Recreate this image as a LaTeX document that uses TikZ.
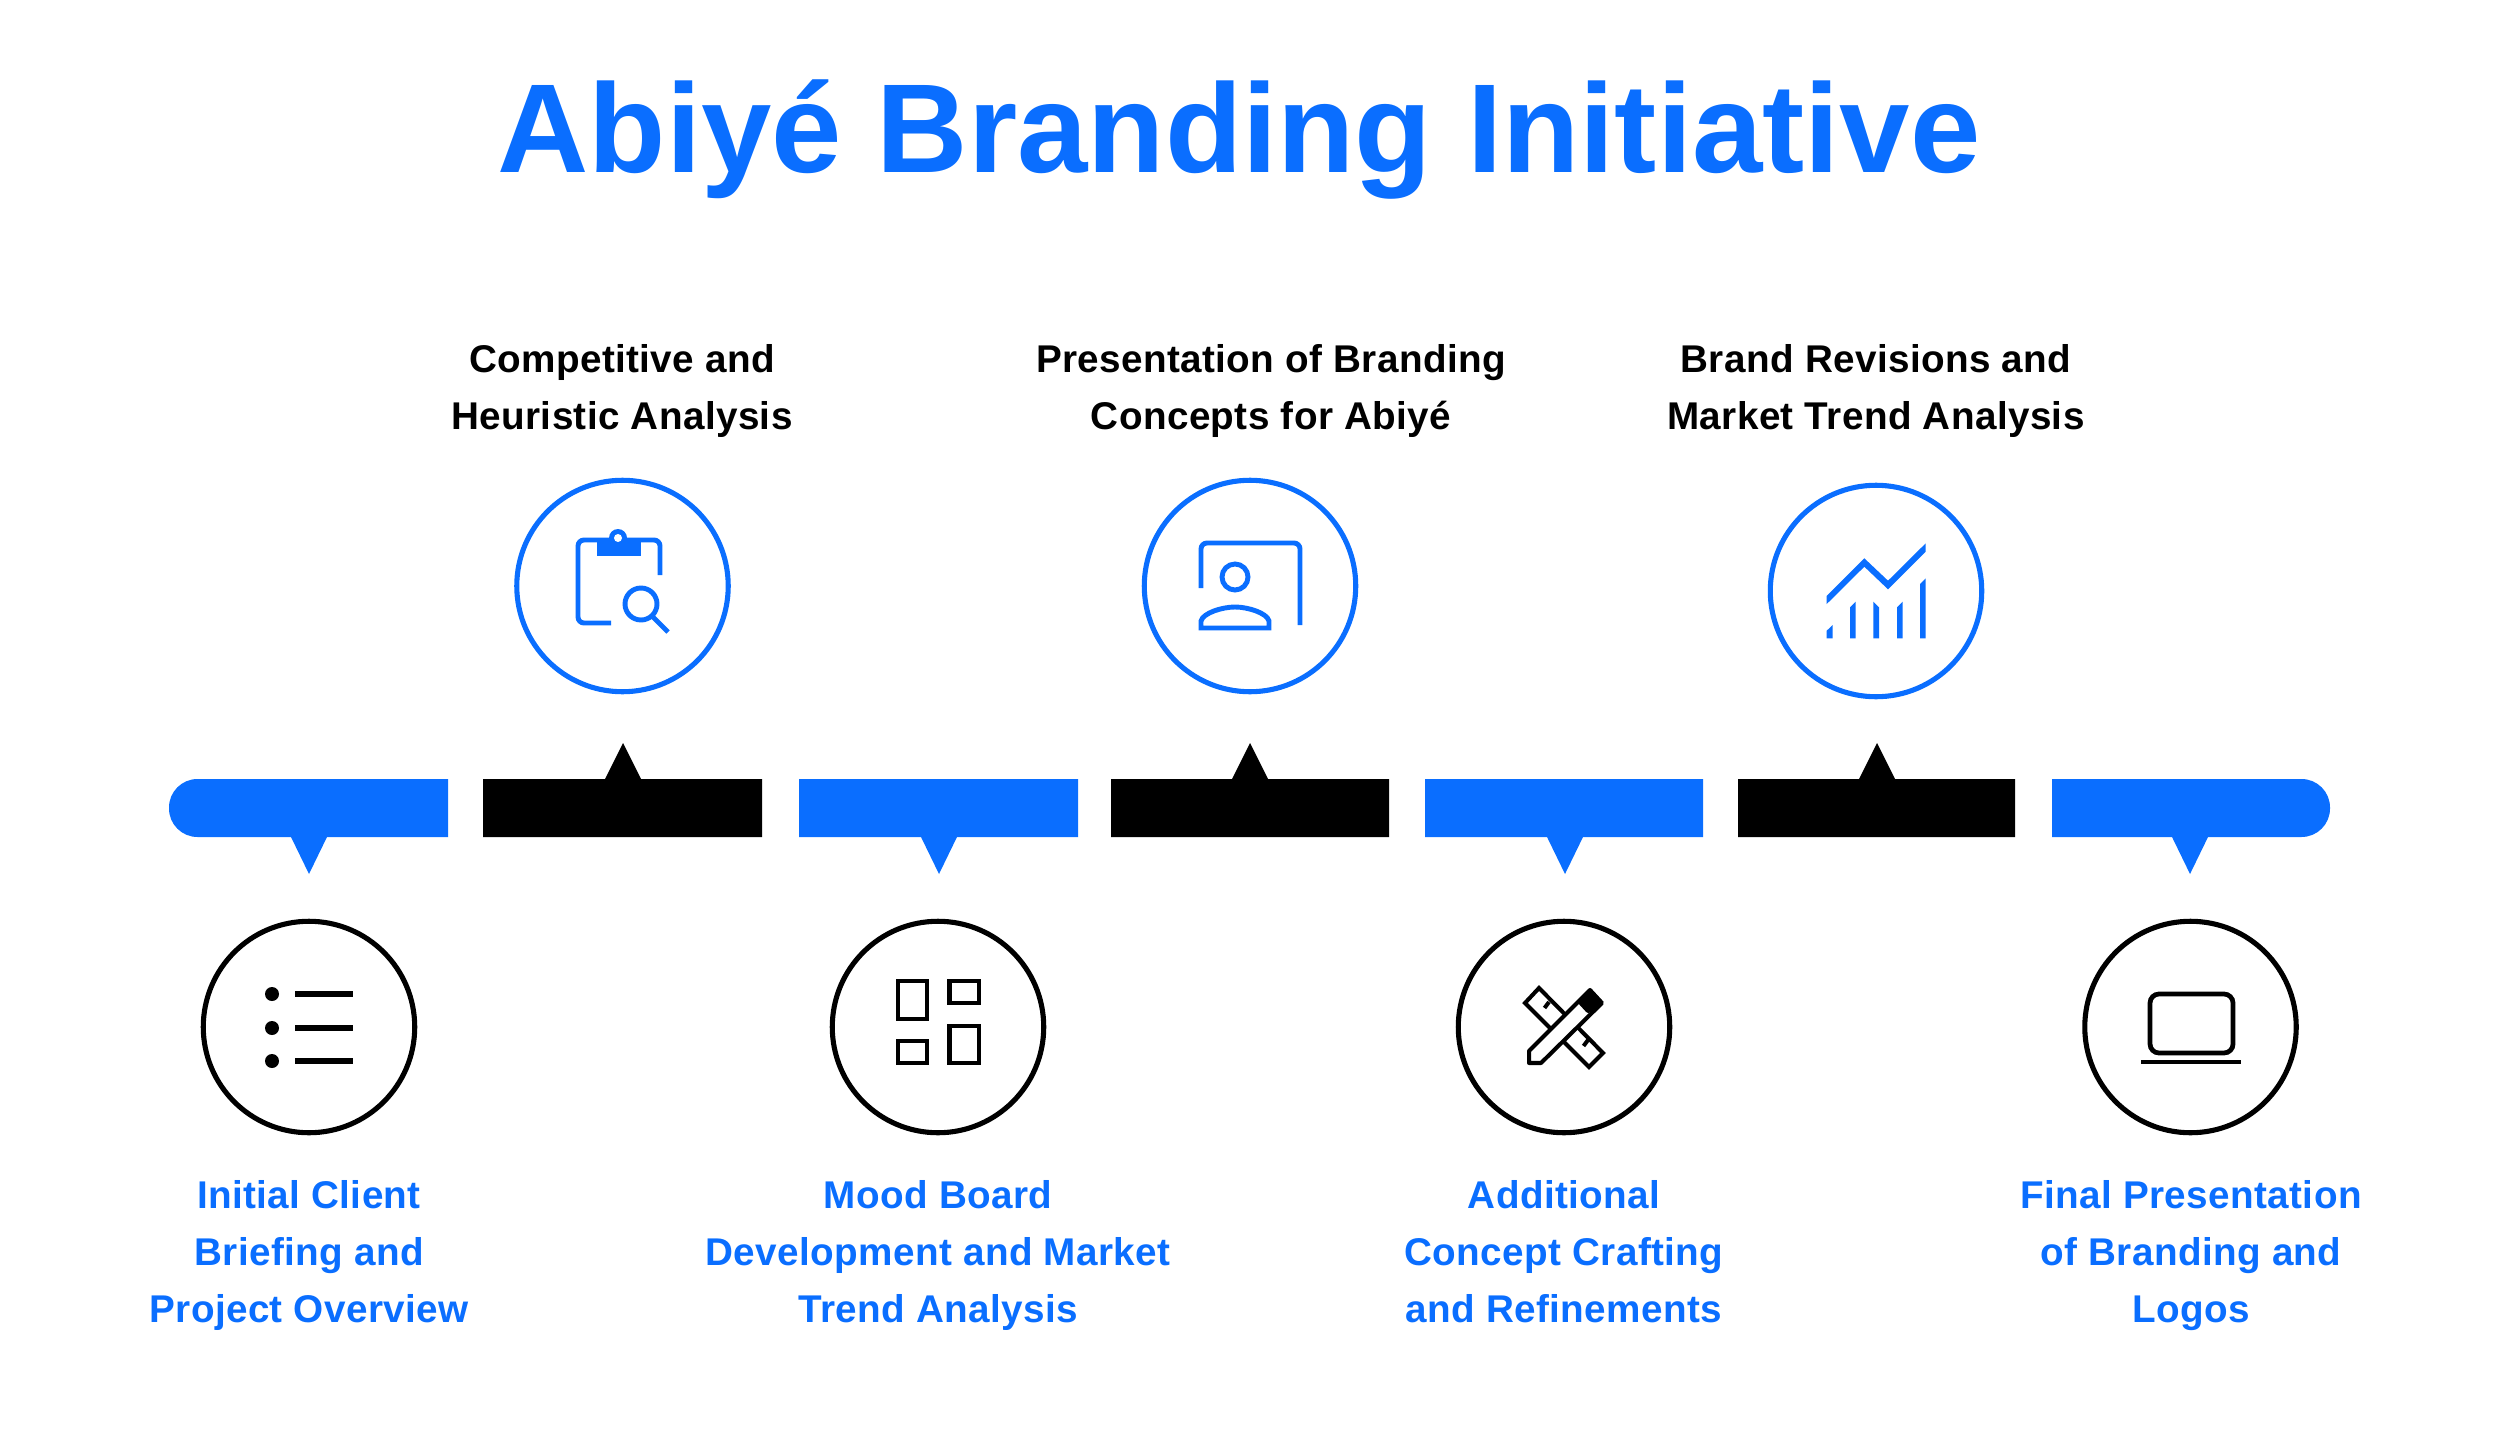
\documentclass[tikz,border=0pt]{standalone}
\usepackage{fontspec}
\usepackage{xcolor}
\setmainfont{Liberation Sans}
\usetikzlibrary{positioning}
\definecolor{abiblue}{HTML}{0A6EFF}
\tikzset{
    bluering/.style={circle, draw=abiblue, fill=white, line width=2.9pt, minimum size=4.23cm, inner sep=0pt},
    blackring/.style={circle, draw=black, fill=white, line width=2.9pt, minimum size=4.23cm, inner sep=0pt},
    bluetext/.style={text=abiblue, align=center, font=\fontsize{22}{32.3}\selectfont\bfseries\addfontfeature{LetterSpace=1.0}},
    blacktext/.style={text=black, align=center, font=\fontsize{22}{32.3}\selectfont\bfseries\addfontfeature{LetterSpace=1.0}},
    blueicon/.style={draw=abiblue, line width=2.8pt},
    blackicon/.style={draw=black, line width=2.3pt},
}
\begin{document}
\begin{tikzpicture}[x=0.02cm, y=-0.02cm]
    \useasboundingbox (0,0) rectangle (2500,1429);

    % title
    \node[text=abiblue, font=\fontsize{72}{80}\selectfont\bfseries, anchor=base] (title) at (1239,173) {Abiyé Branding Initiative};

    % timeline bar
    \fill[abiblue] (448,779) {[rounded corners=0.57cm] -- (169,779) -- (169,837)} -- (291,837) -- (309,874) -- (327,837) -- (448,837) -- cycle;
    \fill[black] (483,779) -- (605,779) -- (623,743) -- (641,779) -- (762,779) -- (762,837) -- (483,837) -- cycle;
    \fill[abiblue] (799,779) -- (1078,779) -- (1078,837) -- (957,837) -- (939,874) -- (921,837) -- (799,837) -- cycle;
    \fill[black] (1111,779) -- (1232,779) -- (1250,743) -- (1268,779) -- (1389,779) -- (1389,837) -- (1111,837) -- cycle;
    \fill[abiblue] (1425,779) -- (1703,779) -- (1703,837) -- (1583,837) -- (1565,874) -- (1547,837) -- (1425,837) -- cycle;
    \fill[black] (1738,779) -- (1859,779) -- (1877,743) -- (1895,779) -- (2015,779) -- (2015,837) -- (1738,837) -- cycle;
    \fill[abiblue] (2052,779) {[rounded corners=0.57cm] -- (2330,779) -- (2330,837)} -- (2208,837) -- (2190,874) -- (2172,837) -- (2052,837) -- cycle;

    % rings
    \node[bluering] (research) at (622.5,586) {};
    \node[bluering] (concepts) at (1250,586) {};
    \node[bluering] (revisions) at (1876,591) {};
    \node[blackring] (briefing) at (309,1027) {};
    \node[blackring] (moodboard) at (938,1027) {};
    \node[blackring] (crafting) at (1564,1027) {};
    \node[blackring] (final) at (2190.5,1027) {};

    % upper labels
    \node[blacktext] (researchtxt) at (622,391) {Competitive and\\Heuristic Analysis};
    \node[blacktext] (conceptstxt) at (1271,391) {Presentation of Branding\\Concepts for Abiyé};
    \node[blacktext] (revisionstxt) at (1876,391) {Brand Revisions and\\Market Trend Analysis};

    % lower labels
    \node[bluetext] (briefingtxt) at (309,1260) {Initial Client\\Briefing and\\Project Overview\strut};
    \node[bluetext] (moodboardtxt) at (938,1260) {Mood Board\\Development and Market\\Trend Analysis\strut};
    \node[bluetext] (craftingtxt) at (1564,1260) {Additional\\Concept Crafting\\and Refinements\strut};
    \node[bluetext] (finaltxt) at (2191,1260) {Final Presentation\\of Branding and\\Logos\strut};

    % clipboard icon
    \draw[blueicon, rounded corners=0.12cm] (660,575) -- (660,540) -- (578,540) -- (578,623) -- (611,623);
    \fill[abiblue] (597,540) rectangle (641,556);
    \fill[abiblue] (618,538) circle[radius=9];
    \fill[white] (618,538) circle[radius=4];
    \draw[blueicon] (641,604) circle[radius=16];
    \draw[blueicon] (653,617) -- (668,632);

    % presenter icon
    \draw[blueicon, rounded corners=0.12cm] (1201,588) -- (1201,543) -- (1300,543) -- (1300,625);
    \draw[blueicon] (1235,577) circle[radius=13];
    \draw[blueicon] (1201,628) -- (1201,621) .. controls (1203,613) and (1222,607) .. (1235,607) .. controls (1248,607) and (1267,613) .. (1269,621) -- (1269,628) -- cycle;

    % chart icon
    \fill[abiblue] (1826.7,596) -- (1864.3,558.3) -- (1888,580.7) -- (1925.7,543.3) -- (1925.7,551.7) -- (1888,589.3) -- (1864.3,566.7) -- (1826.7,604) -- cycle;
    \fill[abiblue] (1826.7,638.3) -- (1826.7,630.7) -- (1832.7,625) -- (1832.7,638.3) -- cycle;
    \fill[abiblue] (1850,638.3) -- (1850,607.3) -- (1855.7,601.7) -- (1855.7,638.3) -- cycle;
    \fill[abiblue] (1873.3,638.3) -- (1873.3,601.7) -- (1879,607.3) -- (1879,638.3) -- cycle;
    \fill[abiblue] (1897,638.3) -- (1897,607.3) -- (1902.7,601.7) -- (1902.7,638.3) -- cycle;
    \fill[abiblue] (1920,638.3) -- (1920,584) -- (1925.7,578.3) -- (1925.7,638.3) -- cycle;

    % list icon
    \fill[black] (272,994) circle[radius=7];
    \fill[black] (272,1028) circle[radius=7];
    \fill[black] (272,1061) circle[radius=7];
    \draw[blackicon, line width=3.4pt] (295,994) -- (353,994);
    \draw[blackicon, line width=3.4pt] (295,1028) -- (353,1028);
    \draw[blackicon, line width=3.4pt] (295,1061) -- (353,1061);

    % grid icon
    \draw[blackicon] (898,981) rectangle (927,1019);
    \draw[blackicon] (949.5,981) rectangle (979,1003);
    \draw[blackicon] (898,1041) rectangle (927,1063);
    \draw[blackicon] (949.5,1026) rectangle (979,1063);

    % ruler and pencil icon
    \draw[blackicon] (1539,988) -- (1525,1003) -- (1589,1067) -- (1603,1053) -- cycle;
    \draw[blackicon] (1549,1002) -- (1544.5,1008);
    \draw[blackicon] (1588,1040) -- (1583.5,1046);
    \draw[blackicon, fill=white, line join=round] (1529,1051) -- (1529,1063) -- (1541,1063) -- (1602,1003) -- (1590,990) -- cycle;
    \fill[black, rounded corners=0.05cm] (1577,1002) -- (1590,988) -- (1603,1002) -- (1588,1014) -- cycle;

    % laptop icon
    \draw[blackicon, line width=2.7pt, rounded corners=0.18cm] (2150,994) rectangle (2233,1053);
    \draw[blackicon, line width=2.7pt] (2141,1062) -- (2241,1062);
\end{tikzpicture}
\end{document}
